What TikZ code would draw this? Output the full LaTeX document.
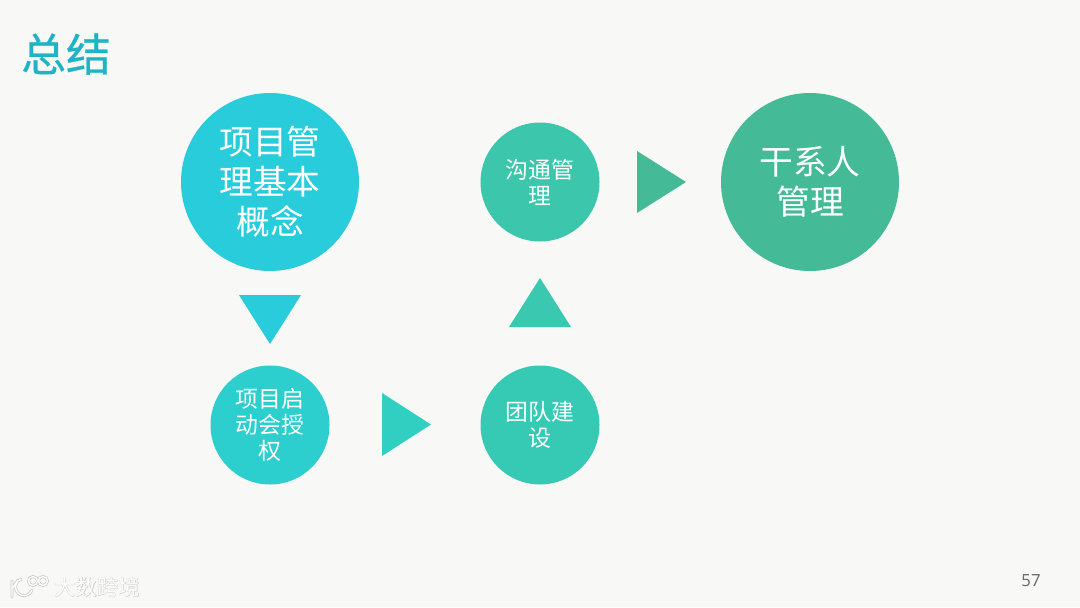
\documentclass[tikz,border=0pt]{standalone}
\usepackage{fontspec}
\setmainfont{Open Sans}
\newfontfamily\cjk{Noto Sans CJK SC}
\newfontfamily\cjktitle[FakeBold=0.6]{Noto Sans CJK SC}
\newfontfamily\cjkglow[FakeBold=1.5]{Noto Sans CJK SC}
\definecolor{pagecolor}{HTML}{F8F8F6}
\definecolor{titlecolor}{HTML}{1FB4C4}
\definecolor{conceptcolor}{HTML}{29CCDB}
\definecolor{kickoffcolor}{HTML}{2CCFCD}
\definecolor{arrowonecolor}{HTML}{30CFC1}
\definecolor{teamcolor}{HTML}{36CAB5}
\definecolor{commcolor}{HTML}{3CC7AC}
\definecolor{stakecolor}{HTML}{44BA97}
\definecolor{glowcolor}{HTML}{C8C8C8}
\tikzset{
    bigcircle/.style={circle,minimum size=3.56cm,inner sep=0,text=white,align=center,font=\cjk\fontsize{19.2}{22.8}\selectfont},
    smallcircle/.style={circle,minimum size=2.38cm,inner sep=0,text=white,align=center,font=\cjk\fontsize{13}{14.8}\selectfont},
}
\begin{document}
\begin{tikzpicture}[x=0.2mm,y=-0.2mm]
    \pgfmathsetmacro{\pagewidth}{1080}
    \pgfmathsetmacro{\pageheight}{607}
    \providecommand{\titlefontsize}{\fontsize{25.5}{30}\selectfont}
    \providecommand{\markfontsize}{\fontsize{12.2}{14}\selectfont}
    \useasboundingbox (0,0) rectangle (\pagewidth,\pageheight);
    % background
    \fill[pagecolor] (0,0) rectangle (\pagewidth,\pageheight);
    \node[text=titlecolor,font=\cjktitle\titlefontsize,inner sep=0](title) at (66,54){总结};
    % circles
    \node[bigcircle,fill=conceptcolor](concept) at (270,182){项目管\\理基本\\概念};
    \node[smallcircle,fill=kickoffcolor](kickoff) at (270,425){项目启\\动会授\\权};
    \node[smallcircle,fill=teamcolor](team) at (540,425){团队建\\设};
    \node[smallcircle,fill=commcolor](comm) at (540,182){沟通管\\理};
    \node[bigcircle,fill=stakecolor](stake) at (810,182){干系人\\管理};
    % triangles
    \fill[conceptcolor] (239,295) -- (301,295) -- (270,344) -- cycle;
    \fill[arrowonecolor] (382,393) -- (382,456) -- (431,424.5) -- cycle;
    \fill[commcolor!60!teamcolor] (509,327) -- (571,327) -- (540,278) -- cycle;
    \fill[stakecolor] (637,151) -- (637,213) -- (686,182) -- cycle;
    % page number and watermark
    \node[text=black!60,font=\fontsize{9.5}{11}\selectfont,inner sep=0](pagenum) at (1031,581){57};
    \node[text=glowcolor,font=\cjkglow\markfontsize,inner sep=0](markglow) at (97,587){大数跨境};
    \node[text=white,font=\cjk\markfontsize,inner sep=0](mark) at (97,587){大数跨境};
    \draw[glowcolor,line width=1.6pt,line cap=round] (12,581) -- (12,597) (12,589) -- (18,580) (32,590) arc (20:250:8.5) (33,581) circle (4.5) (43,581) circle (4.5);
    \draw[white,line width=.8pt,line cap=round] (12,581) -- (12,597) (12,589) -- (18,580) (32,590) arc (20:250:8.5) (33,581) circle (4.5) (43,581) circle (4.5);
\end{tikzpicture}
\end{document}
